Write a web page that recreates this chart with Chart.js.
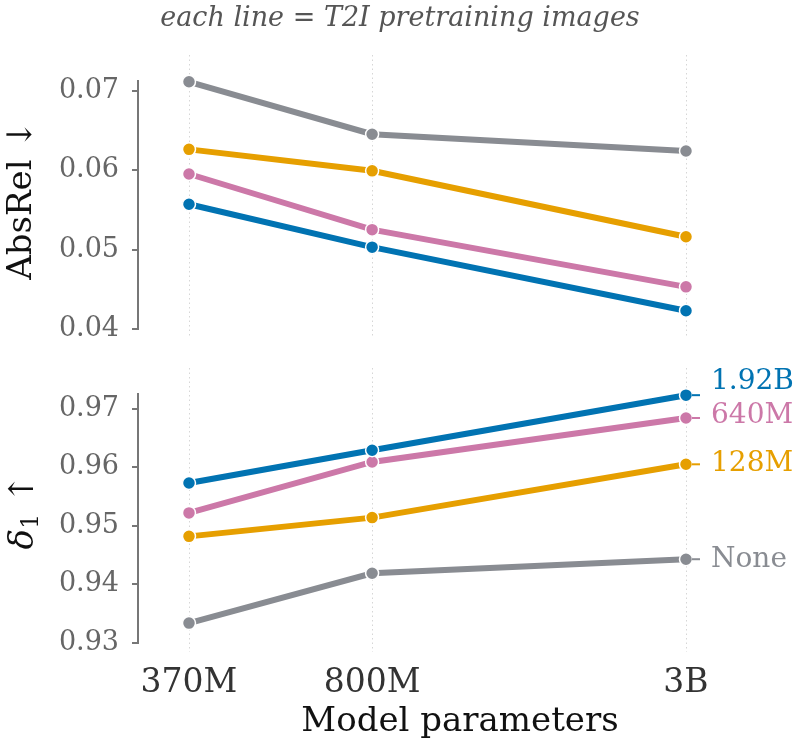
<!DOCTYPE html>
<html>
<head>
<meta charset="utf-8">
<title>AbsRel and delta1 vs model parameters</title>
<script src="https://cdn.jsdelivr.net/npm/chart.js@4.4.0/dist/chart.umd.min.js"></script>
<style>
  html, body { margin: 0; padding: 0; background: #fff; }
  #wrap { position: relative; width: 800px; height: 751px; }
  #wrap canvas { position: absolute; left: 0; }
</style>
</head>
<body>
<div id="wrap">
  <canvas id="topChart" width="800" height="360" style="top:0"></canvas>
  <canvas id="bottomChart" width="800" height="391" style="top:360px"></canvas>
</div>
<script>
// x: model size (log scale)
const modelParams = [370e6, 800e6, 3e9];
const xTickLabels = ['370M', '800M', '3B'];

// one line per T2I pretraining set
const seriesNames = ['1.92B', '640M', '128M', 'None'];
const seriesColors = ['#0173b2', '#cc78a8', '#e69f00', '#898c92'];

const absRel192B = [0.0557, 0.0503, 0.0423];
const absRel640M = [0.0595, 0.0525, 0.0453];
const absRel128M = [0.0626, 0.0599, 0.0516];
const absRelNone = [0.0711, 0.0645, 0.0624];

const delta192B = [0.9573, 0.9629, 0.9723];
const delta640M = [0.9522, 0.9609, 0.9684];
const delta128M = [0.9482, 0.9514, 0.9605];
const deltaNone = [0.9334, 0.9419, 0.9443];

const absRelTicks = [0.04, 0.05, 0.06, 0.07];
const deltaTicks = [0.93, 0.94, 0.95, 0.96, 0.97];

const serif = "'DejaVu Serif', 'Liberation Serif', serif";
const axisGray = '#777';

function makeDatasets(seriesValues) {
    return seriesValues.map(function (vals, i) {
        return {
            label: seriesNames[i],
            data: vals.map(function (v, j) { return { x: modelParams[j], y: v }; }),
            borderColor: seriesColors[i],
            backgroundColor: seriesColors[i],
            borderWidth: 6,
            pointRadius: 6.5,
            pointBackgroundColor: seriesColors[i],
            pointBorderColor: '#fff',
            pointBorderWidth: 1.5,
            tension: 0,
            clip: false
        };
    });
}

function yAxis(min, max, tickVals) {
    return {
        position: 'left',
        min: min,
        max: max,
        afterFit: function (scale) { scale.width = 138; },
        afterBuildTicks: function (scale) {
            scale.ticks = tickVals.map(function (v) { return { value: v }; });
        },
        ticks: {
            callback: function (v) { return v.toFixed(2); },
            font: { family: serif, size: 27 },
            color: '#666',
            padding: 13
        },
        grid: { drawOnChartArea: false, drawTicks: true, tickLength: 6, color: axisGray, lineWidth: 2 },
        border: { display: true, color: axisGray, width: 2 }
    };
}

// dotted vertical guides at each model size, a bit taller than the axis
const guideLines = {
    id: 'guideLines',
    beforeDatasetsDraw: function (chart) {
        const ctx = chart.ctx, xs = chart.scales.x, area = chart.chartArea;
        ctx.save();
        ctx.strokeStyle = '#d6d6d6';
        ctx.lineWidth = 1;
        ctx.setLineDash([1.5, 3]);
        modelParams.forEach(function (v) {
            const px = Math.round(xs.getPixelForValue(v)) + 0.5;
            ctx.beginPath();
            ctx.moveTo(px, area.top - 26);
            ctx.lineTo(px, area.bottom + 9);
            ctx.stroke();
        });
        ctx.restore();
    }
};

const topDecor = {
    id: 'topDecor',
    afterDraw: function (chart) {
        const ctx = chart.ctx;
        ctx.save();
        ctx.fillStyle = '#555';
        ctx.font = 'italic 27px ' + serif;
        ctx.textAlign = 'center';
        ctx.textBaseline = 'middle';
        ctx.fillText('each line = T2I pretraining images', 400, 19);

        ctx.translate(22, 200);
        ctx.rotate(-Math.PI / 2);
        ctx.fillStyle = '#111';
        ctx.font = '34px ' + serif;
        ctx.fillText('AbsRel \u2193', 0, 0);
        ctx.restore();
    }
};

const bottomDecor = {
    id: 'bottomDecor',
    afterDraw: function (chart) {
        const ctx = chart.ctx;
        ctx.save();
        // x title
        ctx.fillStyle = '#111';
        ctx.font = '34px ' + serif;
        ctx.textAlign = 'center';
        ctx.textBaseline = 'middle';
        ctx.fillText('Model parameters', 460, 362);
        ctx.restore();

        ctx.save();
        // y title: delta_1 with an up arrow
        ctx.translate(24, 152);
        ctx.rotate(-Math.PI / 2);
        ctx.fillStyle = '#111';
        ctx.textBaseline = 'middle';
        ctx.textAlign = 'left';
        const fBig = '34px ' + serif, fIt = 'italic 34px ' + serif, fSub = '24px ' + serif;
        ctx.font = fIt; const wD = ctx.measureText('\u03b4').width;
        ctx.font = fSub; const wS = ctx.measureText('1').width;
        ctx.font = fBig; const wA = ctx.measureText(' \u2191').width;
        let x0 = -(wD + wS + wA) / 2;
        ctx.font = fIt; ctx.fillText('\u03b4', x0, 0); x0 += wD;
        ctx.font = fSub; ctx.fillText('1', x0, 8); x0 += wS;
        ctx.font = fBig; ctx.fillText(' \u2191', x0, 0);
        ctx.restore();

        // end labels for each line
        const labelShift = [-13, -2, -1, 0];
        ctx.save();
        ctx.font = '28px ' + serif;
        ctx.textBaseline = 'middle';
        ctx.textAlign = 'left';
        chart.data.datasets.forEach(function (ds, i) {
            const pts = chart.getDatasetMeta(i).data;
            const p = pts[pts.length - 1];
            const ly = p.y + labelShift[i];
            ctx.strokeStyle = seriesColors[i];
            ctx.lineWidth = 2;
            ctx.beginPath();
            ctx.moveTo(p.x + 6, p.y);
            ctx.lineTo(p.x + 14, p.y);
            ctx.stroke();
            ctx.fillStyle = seriesColors[i];
            ctx.fillText(seriesNames[i], p.x + 25, ly);
        });
        ctx.restore();
    }
};

const xMin = 2.985e8, xMax = 3.766e9;

new Chart(document.getElementById('topChart'), {
    type: 'line',
    data: { datasets: makeDatasets([absRel192B, absRel640M, absRel128M, absRelNone]) },
    options: {
        responsive: false,
        animation: false,
        events: [],
        devicePixelRatio: 1,
        layout: { padding: { top: 81, bottom: 31, right: 60, left: 0 } },
        plugins: { legend: { display: false }, tooltip: { enabled: false } },
        scales: {
            x: { type: 'logarithmic', min: xMin, max: xMax, display: false },
            y: yAxis(0.04, 0.0712, absRelTicks)
        }
    },
    plugins: [guideLines, topDecor]
});

new Chart(document.getElementById('bottomChart'), {
    type: 'line',
    data: { datasets: makeDatasets([delta192B, delta640M, delta128M, deltaNone]) },
    options: {
        responsive: false,
        animation: false,
        events: [],
        devicePixelRatio: 1,
        layout: { padding: { top: 34, bottom: 0, right: 60, left: 0 } },
        plugins: { legend: { display: false }, tooltip: { enabled: false } },
        scales: {
            x: {
                type: 'logarithmic',
                min: xMin,
                max: xMax,
                afterFit: function (scale) { scale.height = 108; },
                afterBuildTicks: function (scale) {
                    scale.ticks = modelParams.map(function (v) { return { value: v }; });
                },
                ticks: {
                    autoSkip: false,
                    maxRotation: 0,
                    callback: function (v, i) { return xTickLabels[i]; },
                    font: { family: serif, size: 33 },
                    color: '#333',
                    padding: 13
                },
                grid: { display: false },
                border: { display: false }
            },
            y: yAxis(0.93, 0.9725, deltaTicks)
        }
    },
    plugins: [guideLines, bottomDecor]
});
</script>
</body>
</html>
